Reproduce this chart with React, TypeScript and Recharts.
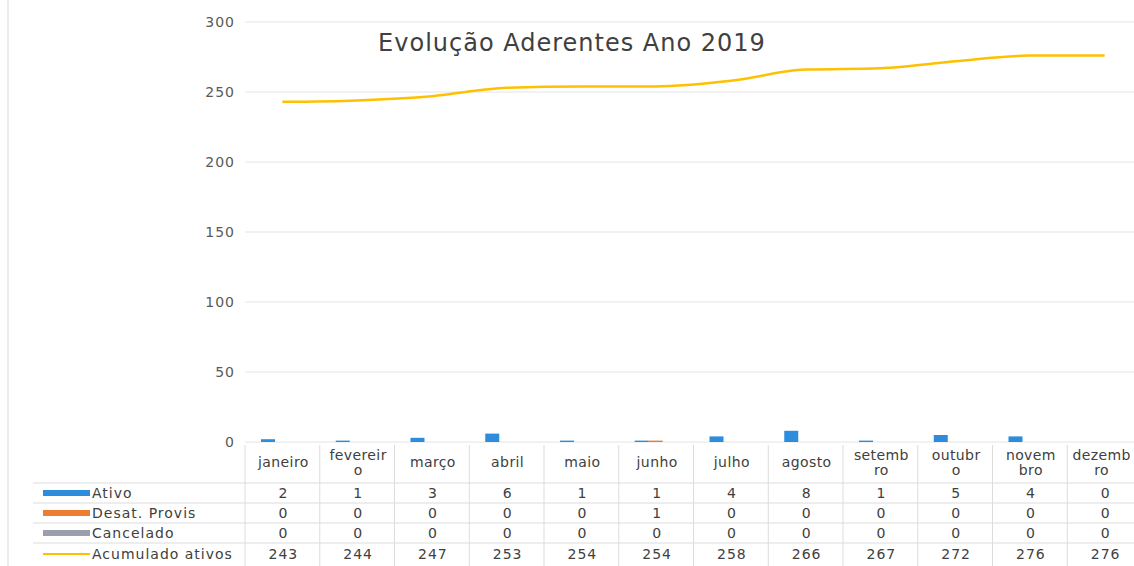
import React from 'react';
import { ComposedChart, Bar, Line, XAxis, YAxis, CartesianGrid } from 'recharts';

const months = ['janeiro', 'fevereiro', 'março', 'abril', 'maio', 'junho', 'julho', 'agosto', 'setembro', 'outubro', 'novembro', 'dezembro'];
const monthTickLabels = [
  ['janeiro'], ['fevereir', 'o'], ['março'], ['abril'], ['maio'], ['junho'],
  ['julho'], ['agosto'], ['setemb', 'ro'], ['outubr', 'o'], ['novem', 'bro'], ['dezemb', 'ro'],
];
const ativo = [2, 1, 3, 6, 1, 1, 4, 8, 1, 5, 4, 0];
const desatProvis = [0, 0, 0, 0, 0, 1, 0, 0, 0, 0, 0, 0];
const cancelado = [0, 0, 0, 0, 0, 0, 0, 0, 0, 0, 0, 0];
const acumulado = [243, 244, 247, 253, 254, 254, 258, 266, 267, 272, 276, 276];
const yTicks = [0, 50, 100, 150, 200, 250, 300];

const COLORS = {
  ativo: '#2D8DDC',
  desat: '#ED7D31',
  cancelado: '#9A9FAE',
  acumulado: '#FFC000',
};

const tableRows = [
  { name: 'Ativo', values: ativo, color: COLORS.ativo, kind: 'bar' },
  { name: 'Desat. Provis', values: desatProvis, color: COLORS.desat, kind: 'bar' },
  { name: 'Cancelado', values: cancelado, color: COLORS.cancelado, kind: 'bar' },
  { name: 'Acumulado ativos', values: acumulado, color: COLORS.acumulado, kind: 'line' },
];

const data = months.map((m, i) => ({
  month: m,
  ativo: ativo[i],
  desat: desatProvis[i],
  cancelado: cancelado[i],
  acumulado: acumulado[i],
}));

const CHART_W = 1160;
const CHART_H = 566;
const PLOT_LEFT = 245;
const PLOT_RIGHT = 1142;
const STEP = (PLOT_RIGHT - PLOT_LEFT) / months.length;
const FONT = '"DejaVu Sans", sans-serif';
const TEXT = '#404040';
const RULE = '#dcdcdc';
const ROW_LINES = [41, 61, 81, 101];
const ROW_BASE = [56, 76, 96, 117];
const FS = 14;
const LS = 1;

const TableTick = (props: any) => {
  const { x, y, payload, index } = props;
  const i = typeof index === 'number' ? index : months.indexOf(payload.value);
  const left = x - STEP / 2;
  const label = monthTickLabels[i] || [payload.value];
  return (
    <g>
      <line x1={left} x2={left} y1={y + 3} y2={y + 124} stroke={RULE} />
      {i === months.length - 1 && (
        <line x1={left + STEP} x2={left + STEP} y1={y + 3} y2={y + 124} stroke={RULE} />
      )}
      {ROW_LINES.map((d) => (
        <line key={d} x1={left} x2={left + STEP} y1={y + d} y2={y + d} stroke={RULE} />
      ))}
      {label.map((t, k) => (
        <text
          key={k}
          x={i === months.length - 1 ? x - 3 : x + 1}
          y={label.length === 1 ? y + 25 : y + 18 + k * 15}
          textAnchor="middle"
          fontSize={FS}
          letterSpacing={0.4}
          fontFamily={FONT}
          fill={TEXT}
        >
          {t}
        </text>
      ))}
      {tableRows.map((r, k) => (
        <text
          key={r.name}
          x={x + 1}
          y={y + ROW_BASE[k]}
          textAnchor="middle"
          fontSize={FS}
          letterSpacing={LS}
          fontFamily={FONT}
          fill={TEXT}
        >
          {r.values[i]}
        </text>
      ))}
    </g>
  );
};

const App: React.FC = () => {
  return (
    <div
      style={{
        position: 'absolute',
        left: 0,
        top: 0,
        width: 1134,
        height: 566,
        overflow: 'hidden',
        background: '#fff',
        fontFamily: FONT,
      }}
    >
      <ComposedChart
        width={CHART_W}
        height={CHART_H}
        data={data}
        margin={{ top: 22, right: CHART_W - PLOT_RIGHT, left: PLOT_LEFT - 50, bottom: 0 }}
        barGap={0}
      >
        <CartesianGrid vertical={false} stroke="#e4e4e4" />
        <XAxis
          dataKey="month"
          axisLine={false}
          tickLine={false}
          tickSize={0}
          tickMargin={0}
          interval={0}
          height={124}
          tick={<TableTick />}
        />
        <YAxis
          width={50}
          domain={[0, 300]}
          ticks={yTicks}
          axisLine={false}
          tickLine={false}
          tickSize={0}
          tickMargin={10}
          tick={{ fontSize: FS, fill: '#595959', fontFamily: FONT, letterSpacing: LS }}
        />
        <Bar dataKey="ativo" fill={COLORS.ativo} barSize={14} isAnimationActive={false} />
        <Bar dataKey="desat" fill={COLORS.desat} barSize={14} isAnimationActive={false} />
        <Bar dataKey="cancelado" fill={COLORS.cancelado} barSize={14} isAnimationActive={false} />
        <Line
          type="monotone"
          dataKey="acumulado"
          stroke={COLORS.acumulado}
          strokeWidth={2.5}
          dot={false}
          isAnimationActive={false}
        />
      </ComposedChart>

      {/* title, frame and row headers of the data table */}
      <svg width={1134} height={566} style={{ position: 'absolute', left: 0, top: 0, pointerEvents: 'none' }}>
        <line x1={8} x2={8} y1={0} y2={566} stroke="#d3dae2" />
        <text x={572} y={51} textAnchor="middle" fontSize={24} letterSpacing={1} fontFamily={FONT} fill={TEXT}>
          Evolução Aderentes Ano 2019
        </text>
        {ROW_LINES.map((d) => (
          <line key={d} x1={33} x2={PLOT_LEFT} y1={442 + d} y2={442 + d} stroke={RULE} />
        ))}
        {tableRows.map((r, k) => {
          const cy = 442 + ROW_BASE[k] - 5;
          return (
            <g key={r.name}>
              {r.kind === 'bar' ? (
                <rect x={43} y={cy - 3} width={47} height={6} fill={r.color} />
              ) : (
                <rect x={43} y={cy - 1} width={47} height={2} fill={r.color} />
              )}
              <text x={92} y={cy + 5} fontSize={FS} letterSpacing={LS} fontFamily={FONT} fill={TEXT}>
                {r.name}
              </text>
            </g>
          );
        })}
      </svg>
    </div>
  );
};

export default App;
